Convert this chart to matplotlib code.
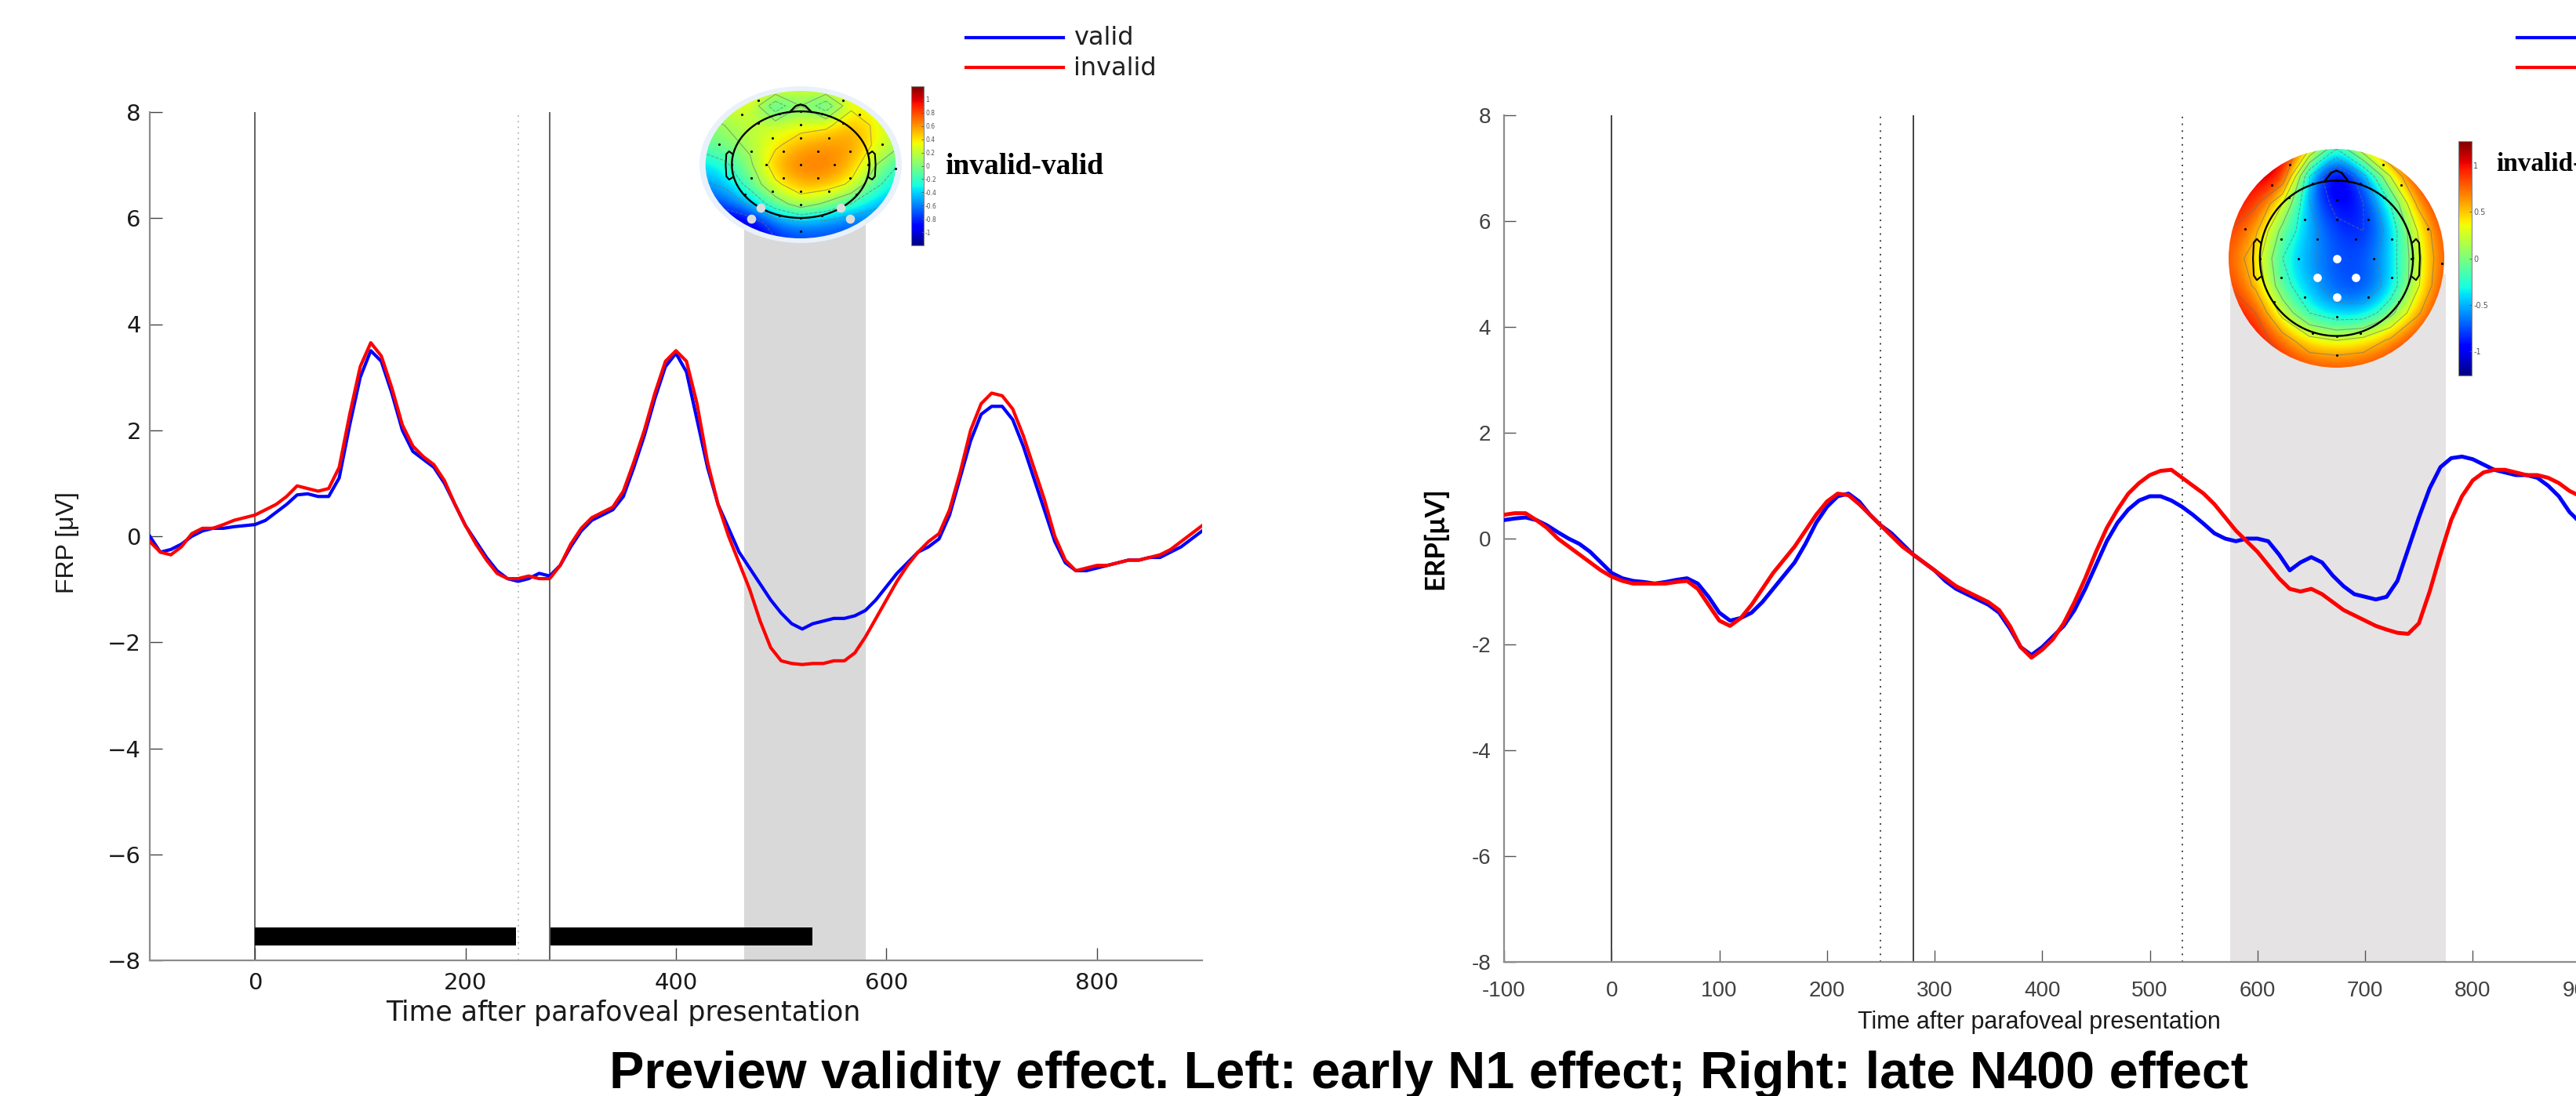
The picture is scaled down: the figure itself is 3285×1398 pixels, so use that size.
import numpy as np
import matplotlib
matplotlib.use("Agg")
import matplotlib.pyplot as plt
from matplotlib.patches import Circle
from matplotlib.lines import Line2D
from matplotlib.colors import Normalize
import matplotlib.cm as cm

# ------------------------------------------------------------------ data
left_t = list(range(-100, 901, 10))
left_valid = [0.0, -0.3, -0.25, -0.15, 0.0, 0.1, 0.15, 0.15, 0.18, 0.2,
              0.22, 0.3, 0.45, 0.6, 0.78, 0.8, 0.75, 0.75, 1.1, 2.1,
              3.0, 3.5, 3.3, 2.7, 2.0, 1.6, 1.45, 1.3, 1.0, 0.6,
              0.2, -0.1, -0.4, -0.65, -0.8, -0.85, -0.8, -0.7, -0.75, -0.55,
              -0.2, 0.1, 0.3, 0.4, 0.5, 0.75, 1.3, 1.9, 2.6, 3.2,
              3.45, 3.1, 2.2, 1.3, 0.6, 0.15, -0.3, -0.6, -0.9, -1.2,
              -1.45, -1.65, -1.75, -1.65, -1.6, -1.55, -1.55, -1.5, -1.4, -1.2,
              -0.95, -0.7, -0.5, -0.3, -0.2, -0.05, 0.4, 1.1, 1.8, 2.3,
              2.45, 2.45, 2.2, 1.7, 1.1, 0.5, -0.1, -0.5, -0.65, -0.65,
              -0.6, -0.55, -0.5, -0.45, -0.45, -0.4, -0.4, -0.3, -0.2, -0.05,
              0.1]
left_invalid = [-0.1, -0.3, -0.35, -0.2, 0.05, 0.15, 0.15, 0.22, 0.3, 0.35,
                0.4, 0.5, 0.6, 0.75, 0.95, 0.9, 0.85, 0.9, 1.3, 2.3,
                3.2, 3.65, 3.4, 2.8, 2.1, 1.7, 1.5, 1.35, 1.05, 0.6,
                0.2, -0.15, -0.45, -0.7, -0.8, -0.8, -0.75, -0.8, -0.8, -0.55,
                -0.15, 0.15, 0.35, 0.45, 0.55, 0.85, 1.4, 2.0, 2.7, 3.3,
                3.5, 3.3, 2.5, 1.4, 0.6, 0.0, -0.5, -1.0, -1.6, -2.1,
                -2.35, -2.4, -2.42, -2.4, -2.4, -2.35, -2.35, -2.2, -1.9, -1.55,
                -1.2, -0.85, -0.55, -0.3, -0.1, 0.05, 0.5, 1.2, 2.0, 2.5,
                2.7, 2.65, 2.4, 1.9, 1.3, 0.7, 0.0, -0.45, -0.65, -0.6,
                -0.55, -0.55, -0.5, -0.45, -0.45, -0.4, -0.35, -0.25, -0.1, 0.05,
                0.2]

right_t = list(range(-100, 901, 10))
right_valid = [0.35, 0.38, 0.4, 0.35, 0.25, 0.12, 0.0, -0.1, -0.25, -0.45,
               -0.65, -0.75, -0.8, -0.82, -0.85, -0.82, -0.78, -0.75, -0.85, -1.1,
               -1.4, -1.55, -1.5, -1.4, -1.2, -0.95, -0.7, -0.45, -0.1, 0.3,
               0.6, 0.8, 0.85, 0.7, 0.45, 0.25, 0.1, -0.1, -0.3, -0.45,
               -0.6, -0.8, -0.95, -1.05, -1.15, -1.25, -1.4, -1.7, -2.05, -2.2,
               -2.05, -1.85, -1.65, -1.35, -0.95, -0.5, -0.05, 0.3, 0.55, 0.72,
               0.8, 0.8, 0.72, 0.6, 0.45, 0.28, 0.1, 0.0, -0.05, 0.0,
               0.0, -0.05, -0.3, -0.6, -0.45, -0.35, -0.45, -0.7, -0.9, -1.05,
               -1.1, -1.15, -1.1, -0.8, -0.2, 0.4, 0.95, 1.35, 1.52, 1.55,
               1.5, 1.4, 1.3, 1.25, 1.2, 1.2, 1.15, 1.0, 0.8, 0.5,
               0.3]
right_invalid = [0.45, 0.48, 0.48, 0.35, 0.2, 0.0, -0.15, -0.3, -0.45, -0.6,
                 -0.72, -0.8, -0.85, -0.85, -0.85, -0.85, -0.82, -0.8, -0.95, -1.25,
                 -1.55, -1.65, -1.5, -1.25, -0.95, -0.65, -0.4, -0.15, 0.15, 0.45,
                 0.7, 0.85, 0.82, 0.65, 0.45, 0.25, 0.05, -0.15, -0.3, -0.45,
                 -0.6, -0.75, -0.9, -1.0, -1.1, -1.2, -1.35, -1.65, -2.05, -2.25,
                 -2.1, -1.9, -1.6, -1.2, -0.75, -0.25, 0.2, 0.55, 0.85, 1.05,
                 1.2, 1.28, 1.3, 1.15, 1.0, 0.85, 0.65, 0.4, 0.15, -0.05,
                 -0.25, -0.5, -0.75, -0.95, -1.0, -0.95, -1.05, -1.2, -1.35, -1.45,
                 -1.55, -1.65, -1.72, -1.78, -1.8, -1.6, -1.0, -0.3, 0.35, 0.8,
                 1.1, 1.25, 1.3, 1.3, 1.25, 1.2, 1.2, 1.15, 1.05, 0.9,
                 0.8]

series_names = ["valid", "invalid"]
series_colors = ["#0000FF", "#FF0000"]

left_window = (465, 580)
right_window = (575, 775)
bar_starts = [0, 281]
bar_widths = [248, 249]
bar_level = -7.55

left_xticks = [0, 200, 400, 600, 800]
left_xticklabels = ["0", "200", "400", "600", "800"]
left_yticks = [-8, -6, -4, -2, 0, 2, 4, 6, 8]
left_yticklabels = ["\u22128", "\u22126", "\u22124", "\u22122", "0", "2", "4", "6", "8"]
right_xticks = [-100, 0, 100, 200, 300, 400, 500, 600, 700, 800, 900]
right_xticklabels = ["-100", "0", "100", "200", "300", "400", "500", "600", "700", "800", "900"]
right_yticks = [-8, -6, -4, -2, 0, 2, 4, 6, 8]
right_yticklabels = ["-8", "-6", "-4", "-2", "0", "2", "4", "6", "8"]

# topographic difference maps (invalid - valid), 9x9 grid, rows top->bottom
left_topo = [
    [0.25, 0.4, 0.55, 0.45, 0.3, 0.45, 0.55, 0.4, 0.25],
    [0.15, 0.2, 0.35, -0.4, 0.1, -0.4, 0.35, 0.25, 0.15],
    [0.0, 0.1, 0.2, 0.25, 0.3, 0.35, 0.55, 0.35, 0.15],
    [-0.1, 0.0, 0.15, 0.35, 0.55, 0.6, 0.6, 0.35, 0.1],
    [-0.4, -0.25, 0.05, 0.55, 0.68, 0.68, 0.55, 0.1, -0.25],
    [-0.55, -0.45, -0.1, 0.35, 0.55, 0.55, 0.35, -0.15, -0.4],
    [-0.8, -0.7, -0.45, -0.05, 0.25, 0.05, -0.2, -0.45, -0.55],
    [-1.05, -1.1, -1.0, -0.65, -0.55, -0.6, -0.7, -0.65, -0.65],
    [-1.05, -1.15, -1.15, -0.85, -0.75, -0.75, -0.75, -0.65, -0.65],
]
right_topo = [
    [1.1, 1.2, 1.2, 0.6, -0.3, 0.5, 1.0, 1.05, 1.05],
    [1.05, 1.1, 1.15, -0.6, -1.25, -0.7, 0.3, 1.0, 1.05],
    [1.0, 0.95, 0.3, -0.6, -1.0, -0.9, -0.3, 0.65, 1.0],
    [0.9, 0.65, -0.1, -0.5, -0.8, -0.9, -0.5, 0.3, 0.9],
    [0.8, 0.45, -0.3, -0.55, -0.75, -0.75, -0.45, 0.2, 0.85],
    [0.9, 0.55, -0.2, -0.5, -0.75, -0.8, -0.5, 0.25, 0.9],
    [1.0, 0.9, 0.2, -0.3, -0.5, -0.5, -0.1, 0.55, 1.0],
    [1.1, 1.05, 0.75, 0.4, 0.3, 0.4, 0.65, 0.95, 1.05],
    [1.1, 1.1, 1.0, 0.85, 0.85, 0.85, 0.95, 1.05, 1.05],
]
left_clim = 1.2
right_clim = 1.26
left_cbar_ticks = [-1, -0.8, -0.6, -0.4, -0.2, 0, 0.2, 0.4, 0.6, 0.8, 1]
left_cbar_labels = ["-1", "-0.8", "-0.6", "-0.4", "-0.2", "0", "0.2", "0.4", "0.6", "0.8", "1"]
right_cbar_ticks = [-1, -0.5, 0, 0.5, 1]
right_cbar_labels = ["-1", "-0.5", "0", "0.5", "1"]

# electrode layout (head-radius units)
elec_x = [0, 0, 0, 0, 0, 0, 0, 0,
          -0.41, 0.41, -0.72, -0.25, 0.25, 0.72,
          -1.0, -0.5, 0.49, 0.98, 1.38,
          -0.72, -0.25, 0.25, 0.72, -0.41, 0.41,
          -0.31, 0.31, -0.62, 0.62, -0.81, 0.81, -0.31, 0.31,
          -0.61, 0.61, -0.85, 0.85, -1.19, 1.19]
elec_y = [1.0, 0.75, 0.5, 0.0, -0.5, -0.75, -1.0, -1.25,
          0.5, 0.5, 0.25, 0.25, 0.25, 0.25,
          0.0, 0.0, 0.0, 0.0, -0.07,
          -0.25, -0.25, -0.25, -0.25, -0.5, -0.5,
          0.96, 0.96, 0.78, 0.78, -0.56, -0.56, -0.96, -0.96,
          1.21, 1.21, 0.94, 0.94, 0.38, 0.38]
left_hl_x = [-0.58, 0.58, -0.72, 0.72]
left_hl_y = [-0.81, -0.81, -1.02, -1.02]
right_hl_x = [0.0, -0.25, 0.25, 0.0]
right_hl_y = [0.0, -0.25, -0.25, -0.5]

# ------------------------------------------------------------------ figure
W, H = 3285, 1398
fig = plt.figure(figsize=(W / 100, H / 100), dpi=100)
fig.patch.set_facecolor("white")


def fx(px):
    return px / W


def fy(py):
    return 1 - py / H


SANS = "Liberation Sans"

# ---------------- left panel
axL = fig.add_axes([fx(191), fy(1225), (1533 - 191) / W, (1225 - 143) / H])
axL.set_xlim(-100, 900)
axL.set_ylim(-8, 8)
axL.axvspan(*left_window, color="#D9D9D9", lw=0, zorder=0)
axL.axvline(0, color="#555555", lw=1.3, zorder=1)
axL.axvline(280, color="#555555", lw=1.3, zorder=1)
axL.axvline(250, color="#b5b5b5", lw=1.3, ls=(0, (1, 3)), zorder=1)
axL.barh([bar_level] * len(bar_starts), bar_widths, left=bar_starts, height=0.33,
         color="black", zorder=2)
axL.plot(left_t, left_valid, color=series_colors[0], lw=3.0, zorder=3)
axL.plot(left_t, left_invalid, color=series_colors[1], lw=3.0, zorder=4)
for s in ["top", "right"]:
    axL.spines[s].set_visible(False)
for s in ["left", "bottom"]:
    axL.spines[s].set_color("#8c8c8c")
    axL.spines[s].set_linewidth(1.6)
axL.set_xticks(left_xticks, labels=left_xticklabels)
axL.set_yticks(left_yticks, labels=left_yticklabels)
axL.tick_params(direction="in", length=11.5, width=1.0, color="#444444",
                labelsize=21, labelcolor="#1a1a1a")
axL.tick_params(axis="x", pad=11)
axL.tick_params(axis="y", pad=8)
axL.set_xlabel("Time after parafoveal presentation", fontsize=25, color="#1a1a1a",
               va="baseline")
axL.xaxis.set_label_coords(fx(795), fy(1302), transform=fig.transFigure)
axL.set_ylabel("FRP [\u03bcV]", fontsize=23, family=SANS, color="#1a1a1a",
               va="center", ha="center")
axL.yaxis.set_label_coords(fx(86), fy(692), transform=fig.transFigure)

# ---------------- right panel
axR = fig.add_axes([fx(1918), fy(1227), 1400 / W, 1080 / H])
axR.set_xlim(-100, 920)
axR.set_ylim(-8, 8)
axR.axvspan(*right_window, ymin=0, ymax=(5.0 + 8) / 16, color="#E6E3E4", lw=0, zorder=0)
axR.axvline(0, color="#222222", lw=1.2, zorder=1)
axR.axvline(280, color="#222222", lw=1.2, zorder=1)
axR.axvline(250, color="#444444", lw=1.4, ls=(0, (1, 3.5)), zorder=1)
axR.axvline(530, color="#444444", lw=1.4, ls=(0, (1, 3.5)), zorder=1)
axR.plot(right_t, right_valid, color=series_colors[0], lw=3.6, zorder=3)
axR.plot(right_t, right_invalid, color=series_colors[1], lw=3.6, zorder=4)
for s in ["top", "right"]:
    axR.spines[s].set_visible(False)
for s in ["left", "bottom"]:
    axR.spines[s].set_color("#8c8c8c")
    axR.spines[s].set_linewidth(1.6)
axR.set_xticks(right_xticks, labels=right_xticklabels, family=SANS)
axR.set_yticks(right_yticks, labels=right_yticklabels, family=SANS)
axR.tick_params(direction="in", length=10.5, width=1.0, color="#555555",
                labelsize=20, labelcolor="#404040")
axR.tick_params(axis="x", pad=17)
axR.tick_params(axis="y", pad=12)
axR.set_xlabel("Time after parafoveal presentation", fontsize=22, family=SANS,
               color="#1a1a1a", va="baseline")
axR.xaxis.set_label_coords(fx(2600), fy(1312), transform=fig.transFigure)
axR.set_ylabel("ERP[\u03bcV]", fontsize=25, family="Lato", weight="bold",
               color="black", va="center", ha="center")
axR.yaxis.set_label_coords(fx(1830), fy(687), transform=fig.transFigure)


# ---------------- topographic maps
def topomap(rect, values, vmax, head_r, color_r, halo, hl_x, hl_y, hl_color,
            hl_size, levels):
    ax = fig.add_axes(rect)
    vals = np.array(values)
    n = vals.shape[0]
    step = 2.0 / (n - 1)
    if halo:
        ax.add_patch(Circle((0, 0), 1.0, facecolor="#E9F1FA", edgecolor="none", zorder=0))
    else:
        ax.add_patch(Circle((0, 0), 1.0, facecolor="white", edgecolor="none", zorder=0))
    im = ax.imshow(vals, extent=(-1 - step / 2, 1 + step / 2, -1 - step / 2, 1 + step / 2),
                   cmap="jet", vmin=-vmax, vmax=vmax, interpolation="bicubic",
                   aspect="auto", origin="upper", zorder=1)
    clip = Circle((0, 0), color_r, transform=ax.transData)
    im.set_clip_path(clip)
    g = np.linspace(-1, 1, n)
    cs = ax.contour(g, g[::-1], vals, levels=levels, colors="#707070",
                    linewidths=0.8, alpha=0.6, zorder=2)
    cs.set_clip_path(Circle((0, 0), color_r, transform=ax.transData))
    th = np.linspace(0, 2 * np.pi, 300)
    ax.plot(head_r * np.cos(th), head_r * np.sin(th), color="black", lw=1.7, zorder=3)
    nose_x = np.array([-0.16, -0.07, 0.0, 0.07, 0.16]) * head_r
    nose_y = np.array([0.985, 1.1, 1.13, 1.1, 0.985]) * head_r
    ax.plot(nose_x, nose_y, color="black", lw=1.7, zorder=3)
    ear_x = np.array([0.99, 1.04, 1.08, 1.09, 1.08, 1.04, 0.99])
    ear_y = np.array([0.2, 0.25, 0.2, 0.0, -0.22, -0.28, -0.24])
    ax.plot(ear_x * head_r, ear_y * head_r, color="black", lw=1.5, zorder=3)
    ax.plot(-ear_x * head_r, ear_y * head_r, color="black", lw=1.5, zorder=3)
    ax.scatter(np.array(elec_x) * head_r, np.array(elec_y) * head_r, s=5, c="black",
               zorder=4, linewidths=0)
    ax.scatter(np.array(hl_x) * head_r, np.array(hl_y) * head_r, s=hl_size, c=hl_color,
               zorder=5, linewidths=0)
    ax.set_xlim(-1, 1)
    ax.set_ylim(-1, 1)
    ax.axis("off")
    return ax


topomap([fx(892), fy(310), 258 / W, 200 / H], left_topo, left_clim, 0.68, 0.94, True,
        left_hl_x, left_hl_y, "#dcdcdc", 70, [-0.8, -0.5, -0.2, 0.1, 0.4])
topomap([fx(2842), fy(469), 275 / W, 279 / H], right_topo, right_clim, 0.71, 1.0, False,
        right_hl_x, right_hl_y, "white", 60, [-0.9, -0.6, -0.3, 0.0, 0.3, 0.6, 0.9])


def cbar(rect, vmax, ticks, labels, size):
    cax = fig.add_axes(rect)
    sm = cm.ScalarMappable(norm=Normalize(-vmax, vmax), cmap="jet")
    cb = fig.colorbar(sm, cax=cax, ticks=ticks)
    cb.set_ticklabels(labels)
    cb.outline.set_edgecolor("#888888")
    cb.outline.set_linewidth(0.8)
    cax.tick_params(labelsize=size, colors="#555555", length=2.5, width=0.6,
                    direction="in", pad=1.5)
    return cb


cbar([fx(1162), fy(313), 16 / W, 203 / H], left_clim, left_cbar_ticks, left_cbar_labels, 5.5)
cbar([fx(3135), fy(479), 17 / W, 299 / H], right_clim, right_cbar_ticks, right_cbar_labels, 7)

fig.text(fx(1205), fy(212), "invalid-valid", family="Liberation Serif", weight="bold",
         fontsize=27, ha="left", va="center")
fig.text(fx(3183), fy(210), "invalid-valid", family="Liberation Serif", weight="bold",
         fontsize=24, ha="left", va="center")

# ---------------- legends
for i, (name, col) in enumerate(zip(series_names, series_colors)):
    yl = fy(48 + 38 * i)
    fig.add_artist(Line2D([fx(1232), fx(1356)], [yl, yl], color=col, lw=3.0,
                          transform=fig.transFigure))
    fig.text(fx(1369), fy(57 + 39 * i), name, fontsize=23, color="#1f1f1f",
             ha="left", va="baseline")
    fig.add_artist(Line2D([fx(3210), fx(3334)], [yl, yl], color=col, lw=3.0,
                          transform=fig.transFigure))
    fig.text(fx(3347), fy(57 + 39 * i), name, fontsize=23, family=SANS, color="#1f1f1f",
             ha="left", va="baseline")

# ---------------- title
fig.text(fx(1822), fy(1388), "Preview validity effect. Left: early N1 effect; Right: late N400 effect",
         family=SANS, weight="bold", fontsize=48, ha="center", va="baseline")

fig.savefig("out.png", dpi=100)
